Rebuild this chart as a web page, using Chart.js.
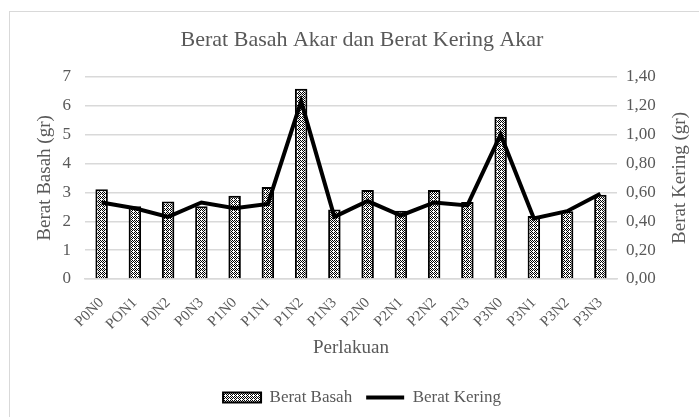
<!DOCTYPE html>
<html lang="id">
  <head>
    <meta charset="UTF-8" />
    <title>Berat Basah Akar dan Berat Kering Akar</title>
    <script src="https://cdn.jsdelivr.net/npm/chart.js"></script>
    <style>
      html, body { margin: 0; padding: 0; background: #fff; }
      #wrap { position: relative; width: 699px; height: 417px; }
    </style>
  </head>
  <body>
    <div id="wrap"><canvas id="myChart"></canvas></div>
    <script>
      // data
      const perlakuan = ['P0N0', 'PON1', 'P0N2', 'P0N3', 'P1N0', 'P1N1', 'P1N2', 'P1N3',
                         'P2N0', 'P2N1', 'P2N2', 'P2N3', 'P3N0', 'P3N1', 'P3N2', 'P3N3'];
      const beratBasah = [3.11, 2.52, 2.68, 2.52, 2.88, 3.19, 6.59, 2.41,
                          3.08, 2.36, 3.08, 2.67, 5.62, 2.18, 2.35, 2.92];
      const beratKering = [0.53, 0.49, 0.43, 0.53, 0.49, 0.52, 1.23, 0.43,
                           0.54, 0.44, 0.53, 0.51, 1.00, 0.42, 0.47, 0.59];

      const grey = '#595959';
      const serif = "'Liberation Serif', 'DejaVu Serif', serif";

      // small checker pattern for the bars
      const pc = document.createElement('canvas');
      pc.width = 4; pc.height = 4;
      const p = pc.getContext('2d');
      p.fillStyle = '#fff';
      p.fillRect(0, 0, 4, 4);
      p.fillStyle = '#000';
      [[0, 0], [2, 0], [1, 1], [3, 1], [0, 2], [2, 2], [3, 3]].forEach(([x, y]) => p.fillRect(x, y, 1, 1));
      const checker = p.createPattern(pc, 'repeat');

      // white background, light frame, and the right axis title read bottom-to-top
      const frame = {
        id: 'frame',
        beforeDraw(chart) {
          const c = chart.ctx;
          c.save();
          c.fillStyle = '#fff';
          c.fillRect(0, 0, chart.width, chart.height);
          c.strokeStyle = '#d9d9d9';
          c.lineWidth = 1;
          c.strokeRect(9.5, 11.5, chart.width, chart.height);
          c.restore();
        },
        afterDraw(chart) {
          const c = chart.ctx;
          const a = chart.chartArea;
          c.save();
          c.translate(680, (a.top + a.bottom) / 2);
          c.rotate(-Math.PI / 2);
          c.fillStyle = grey;
          c.font = '19px ' + serif;
          c.textAlign = 'center';
          c.textBaseline = 'middle';
          c.fillText('Berat Kering (gr)', 0, 0);
          c.restore();
        }
      };

      const ctx = document.getElementById('myChart').getContext('2d');
      new Chart(ctx, {
        data: {
          labels: perlakuan,
          datasets: [
            {
              type: 'line',
              label: 'Berat Kering',
              data: beratKering,
              yAxisID: 'y1',
              borderColor: '#000',
              backgroundColor: '#000',
              borderWidth: 4,
              pointRadius: 0,
              tension: 0,
              pointStyle: 'line',
              order: 0
            },
            {
              type: 'bar',
              label: 'Berat Basah',
              data: beratBasah,
              yAxisID: 'y',
              backgroundColor: checker,
              borderColor: '#000',
              borderWidth: 2,
              barPercentage: 0.75,
              categoryPercentage: 0.5,
              pointStyle: 'rect',
              order: 1
            }
          ]
        },
        options: {
          responsive: true,
          maintainAspectRatio: false,
          animation: false,
          layout: { padding: { left: 30, right: 5, top: 10, bottom: 1 } },
          plugins: {
            title: {
              display: true,
              text: 'Berat Basah Akar dan Berat Kering Akar',
              color: grey,
              font: { family: serif, size: 22, weight: 'normal' },
              padding: { top: 17, bottom: 23.5 }
            },
            legend: {
              position: 'bottom',
              reverse: true,
              labels: {
                color: grey,
                font: { family: serif, size: 17 },
                usePointStyle: true,
                pointStyleWidth: 38,
                boxHeight: 10,
                padding: 14
              }
            },
            tooltip: { enabled: false }
          },
          scales: {
            x: {
              grid: { display: false, drawTicks: false },
              border: { color: '#d9d9d9', width: 1.5 },
              ticks: {
                color: grey,
                font: { family: serif, size: 15 },
                minRotation: 45,
                maxRotation: 45,
                padding: 15
              },
              title: {
                display: true,
                text: 'Perlakuan',
                color: grey,
                font: { family: serif, size: 19 },
                padding: { top: 0, bottom: 16 }
              },
              afterFit(scale) { scale.height = 96; }
            },
            y: {
              position: 'left',
              min: 0,
              max: 7,
              ticks: {
                stepSize: 1,
                color: grey,
                font: { family: serif, size: 17 },
                padding: 14
              },
              grid: { color: '#d9d9d9', lineWidth: 1.5, drawTicks: false },
              border: { display: false },
              title: {
                display: true,
                text: 'Berat Basah (gr)',
                color: grey,
                font: { family: serif, size: 19 },
                padding: { top: 4, bottom: 0 }
              },
              afterFit(scale) { scale.width = 55; }
            },
            y1: {
              position: 'right',
              min: 0,
              max: 1.4,
              ticks: {
                stepSize: 0.2,
                color: grey,
                font: { family: serif, size: 17 },
                padding: 9,
                callback: v => v.toFixed(2).replace('.', ',')
              },
              grid: { display: false, drawTicks: false },
              border: { display: false },
              afterFit(scale) { scale.width = 77; }
            }
          }
        },
        plugins: [frame]
      });
    </script>
  </body>
</html>
